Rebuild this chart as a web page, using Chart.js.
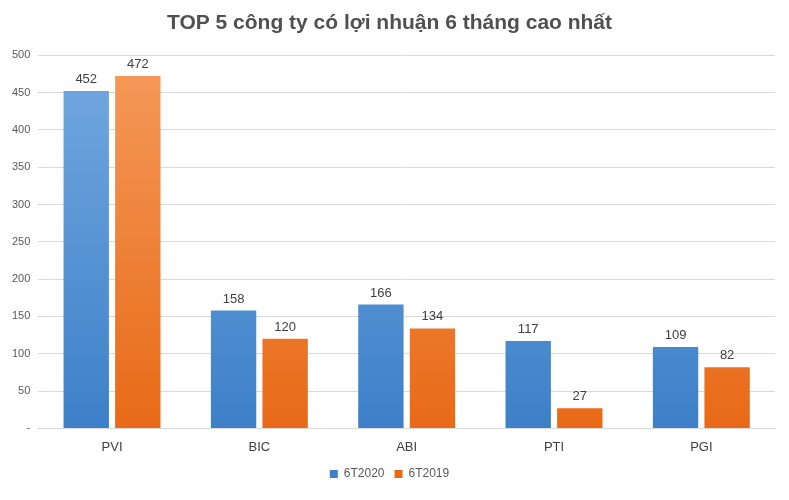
<!DOCTYPE html>
<html><head><meta charset="utf-8">
<script src="https://cdn.jsdelivr.net/npm/chart.js@4"></script>
<style>html,body{margin:0;padding:0;background:#fff}#wrap{width:789px;height:500px;position:relative}</style>
</head><body>
<div id="wrap"><canvas id="myChart"></canvas></div>
<script>
const categories = ['PVI', 'BIC', 'ABI', 'PTI', 'PGI'];
const series2020 = [452, 158, 166, 117, 109];
const series2019 = [472, 120, 134, 27, 82];
const yTicks = [0, 50, 100, 150, 200, 250, 300, 350, 400, 450, 500];

function grad(top, bottom) {
    return function (c) {
        const area = c.chart.chartArea;
        if (!area) return bottom;
        const g = c.chart.ctx.createLinearGradient(0, area.top, 0, area.bottom);
        g.addColorStop(0, top);
        g.addColorStop(1, bottom);
        return g;
    };
}

const valueLabels = {
    id: 'valueLabels',
    afterDatasetsDraw(chart) {
        const ctx = chart.ctx;
        ctx.save();
        ctx.font = '13px "Liberation Sans", Arial';
        ctx.fillStyle = '#404040';
        ctx.textAlign = 'center';
        ctx.textBaseline = 'bottom';
        chart.data.datasets.forEach((ds, i) => {
            chart.getDatasetMeta(i).data.forEach((bar, j) => {
                ctx.fillText(ds.data[j], bar.x, bar.y - 5);
            });
        });
        ctx.restore();
    }
};

new Chart(document.getElementById('myChart'), {
    type: 'bar',
    data: {
        labels: categories,
        datasets: [
            { label: '6T2020', data: series2020, backgroundColor: grad('#74a9e0', '#3d80c8') },
            { label: '6T2019', data: series2019, backgroundColor: grad('#f59a5c', '#e86a17') }
        ]
    },
    plugins: [valueLabels],
    options: {
        responsive: true,
        maintainAspectRatio: false,
        animation: false,
        layout: { padding: { left: 4, right: 14, top: 0, bottom: 10 } },
        datasets: { bar: { categoryPercentage: 0.7, barPercentage: 0.88 } },
        scales: {
            x: {
                grid: { display: false },
                border: { color: '#d9d9d9' },
                ticks: { color: '#404040', font: { size: 13, family: '"Liberation Sans", Arial' } }
            },
            y: {
                min: 0, max: 500,
                afterBuildTicks: (axis) => { axis.ticks = yTicks.map(v => ({ value: v })); },
                grid: { color: '#d9d9d9', drawTicks: false },
                border: { display: false },
                ticks: {
                    padding: 8,
                    color: '#595959',
                    font: { size: 11, family: '"Liberation Sans", Arial' },
                    callback: (v) => v === 0 ? '-' : v
                }
            }
        },
        plugins: {
            title: {
                display: true,
                text: 'TOP 5 công ty có lợi nhuận 6 tháng cao nhất',
                color: '#505050',
                font: { size: 21, weight: 'bold', family: '"Liberation Sans", Arial' },
                padding: { top: 11, bottom: 19 }
            },
            legend: {
                position: 'bottom',
                labels: { boxWidth: 8, boxHeight: 8, color: '#595959', font: { size: 12, family: '"Liberation Sans", Arial' } }
            },
            tooltip: { enabled: false }
        }
    }
});
</script>
</body></html>
